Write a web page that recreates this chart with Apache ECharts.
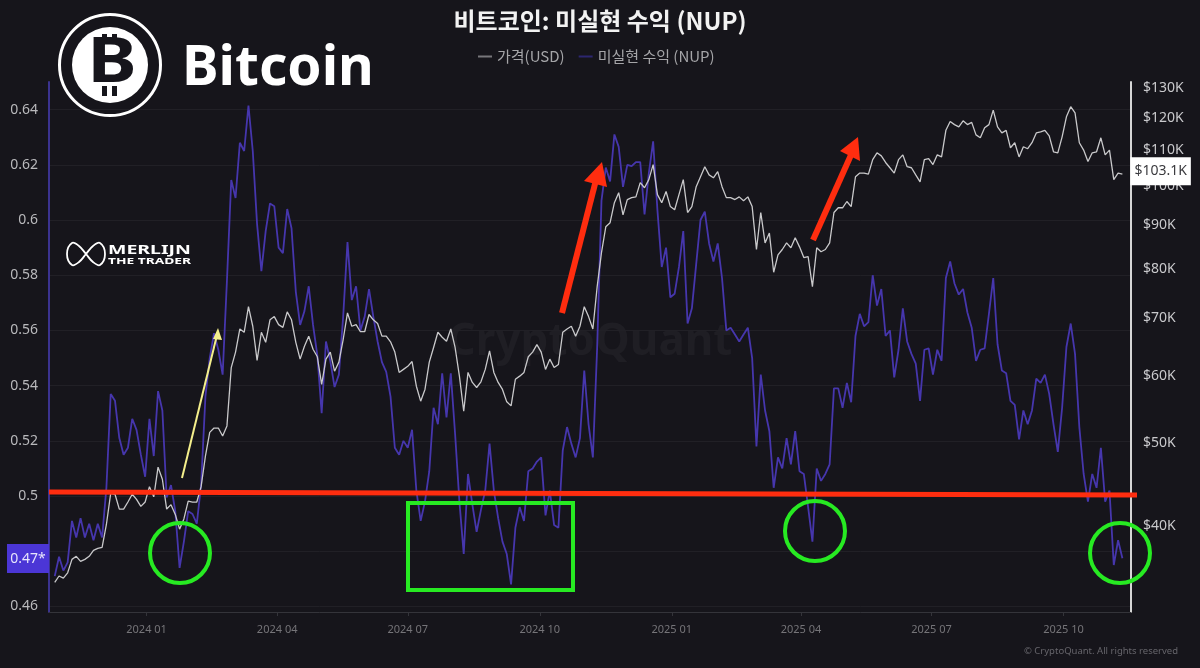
<!DOCTYPE html>
<html>
<head>
<meta charset="utf-8">
<title>비트코인: 미실현 수익 (NUP)</title>
<script src="https://cdn.jsdelivr.net/npm/echarts@6/dist/echarts.min.js"></script>
<style>
html,body{margin:0;padding:0;background:#16151b;}
#main{width:1200px;height:668px;}
</style>
</head>
<body>
<div id="main"></div>
<script>
// dates: one reading every 3 days
var startDate = '2023-10-29';
var stepDays = 3;

// NUP (left axis)
var nupValues = [
0.471,0.478,0.473,0.476,0.491,0.485,0.492,0.485,0.490,0.484,0.490,0.485,0.503,0.537,0.5345,0.521,0.515,0.5175,0.528,0.524,
0.515,0.507,0.528,0.5145,0.538,0.531,0.4995,0.504,0.4945,0.474,0.4835,0.4945,0.4935,0.490,0.504,0.536,0.550,0.559,0.553,0.544,
0.578,0.6145,0.608,0.628,0.625,0.6415,0.625,0.5985,0.5815,0.596,0.606,0.605,0.590,0.588,0.604,0.597,0.574,0.562,0.567,0.576,
0.562,0.551,0.530,0.556,0.549,0.5395,0.544,0.565,0.592,0.571,0.576,0.560,0.565,0.575,0.565,0.556,0.5485,0.545,0.536,0.5175,
0.515,0.520,0.5175,0.524,0.502,0.491,0.498,0.509,0.532,0.526,0.5445,0.5285,0.5445,0.5225,0.498,0.479,0.508,0.497,0.487,0.495,
0.502,0.519,0.502,0.492,0.4835,0.479,0.468,0.4885,0.496,0.491,0.509,0.510,0.5125,0.514,0.493,0.502,0.4895,0.4885,0.5165,0.525,
0.519,0.514,0.521,0.5455,0.526,0.514,0.554,0.607,0.619,0.614,0.631,0.6265,0.612,0.620,0.6195,0.621,0.621,0.602,0.617,0.6285,
0.6035,0.583,0.590,0.572,0.5733,0.583,0.596,0.5625,0.568,0.584,0.600,0.603,0.5915,0.585,0.5915,0.579,0.560,0.561,0.5585,0.556,
0.5585,0.561,0.550,0.518,0.544,0.531,0.5235,0.503,0.514,0.510,0.521,0.5115,0.5235,0.509,0.508,0.496,0.4835,0.510,0.5055,0.508,
0.5115,0.539,0.539,0.532,0.541,0.534,0.558,0.566,0.5615,0.563,0.580,0.569,0.575,0.558,0.560,0.543,0.553,0.568,0.556,0.5515,
0.548,0.5345,0.553,0.5535,0.544,0.553,0.549,0.579,0.585,0.577,0.573,0.575,0.5665,0.561,0.549,0.553,0.5535,0.566,0.579,0.555,
0.5455,0.5445,0.5345,0.533,0.5205,0.531,0.526,0.531,0.5425,0.541,0.544,0.537,0.526,0.516,0.532,0.554,0.5625,0.5515,0.525,0.508,
0.498,0.508,0.503,0.5175,0.498,0.502,0.475,0.484,0.4775
];

// price in $K (right axis)
var priceValues = [
34.4,35.0,34.8,35.3,36.6,36.9,36.4,36.6,36.9,37.5,37.7,37.8,40.2,43.7,43.6,41.9,41.9,42.7,43.6,43.0,
42.2,42.7,44.5,43.3,46.9,45.4,41.9,42.4,41.3,39.7,40.8,42.8,42.7,42.7,44.5,48.3,51.5,52.1,52.1,51.0,
52.4,61.3,63.9,68.0,67.4,72.2,68.5,62.5,67.4,65.6,69.7,70.3,68.8,68.3,71.2,69.7,65.6,62.7,64.9,66.7,
64.4,63.1,58.6,62.7,63.9,60.7,62.2,66.1,71.0,68.5,68.8,67.5,67.5,70.7,69.7,69.0,66.7,66.7,65.7,63.9,
60.5,61.0,61.5,62.3,58.3,56.0,57.8,62.2,64.7,67.4,66.5,65.8,68.0,64.7,59.9,54.5,60.5,58.9,58.1,59.0,
61.0,64.1,60.5,58.9,57.8,55.9,55.3,59.4,59.9,60.5,63.1,63.9,65.2,63.9,61.0,62.7,61.3,61.8,67.4,68.0,
68.5,66.7,68.5,72.2,70.3,68.0,76.2,83.5,89.5,90.5,95.5,98.1,92.4,96.3,96.8,97.0,100.8,99.4,101.6,105.8,
97.6,95.5,98.4,94.5,93.7,97.6,101.6,93.0,94.5,99.7,102.4,105.2,102.9,102.1,103.8,99.7,96.8,96.8,96.3,97.0,
96.0,97.0,94.5,84.2,93.0,85.7,88.0,79.2,83.0,84.2,85.7,84.6,86.9,84.8,82.4,82.6,76.2,84.6,83.7,84.2,
85.7,93.0,94.2,94.2,95.8,94.5,102.4,103.4,103.4,103.1,107.2,109.2,108.3,106.4,104.9,103.4,107.2,108.6,105.2,104.9,
102.9,101.0,107.2,107.5,105.8,108.6,108.0,116.0,118.8,117.8,117.1,119.0,117.8,118.5,114.6,113.7,116.8,117.8,122.5,117.1,
115.2,116.0,110.7,112.2,108.0,111.0,110.4,112.2,115.2,115.5,116.0,114.3,109.5,109.2,114.0,120.3,123.6,121.6,112.2,110.0,
106.7,109.2,109.5,113.7,108.6,110.0,101.6,103.4,103.1
];

// tick labels
var xTicks = ['2024-01-01','2024-04-01','2024-07-01','2024-10-01','2025-01-01','2025-04-01','2025-07-01','2025-10-01'];
var nupTicks = [0.46,0.48,0.5,0.52,0.54,0.56,0.58,0.6,0.62,0.64];
var priceTicks = [40,50,60,70,80,90,100,110,120,130];

var priceName = '가격(USD)';
var nupName = '미실현 수익 (NUP)';
var lastPrice = '$103.1K';
var lastNup = '0.47*';

var cjkFont = '"Noto Sans CJK KR","Noto Sans",sans-serif';
var latinFont = '"Noto Sans","Open Sans",sans-serif';

function toTime(day){
	return new Date(day + 'T00:00:00Z').getTime();
}

function makeSeriesData(values){
	var t0 = toTime(startDate);
	var out = [];
	for(var i=0;i<values.length;i++){
		out.push([t0 + i*stepDays*86400000, values[i]]);
	}
	return out;
}

function pad2(n){
	return n<10 ? '0'+n : ''+n;
}

var xTickTimes = xTicks.map(toTime);

var greenColor = '#27ea22';
var redColor = '#ff2d0f';

// hand drawn notes that sit on top of the chart
var notes = [
	// 0.5 line
	{type:'line',z:50,shape:{x1:49,y1:492,x2:1137,y2:495},style:{stroke:redColor,lineWidth:5}},
	// yellow arrow
	{type:'line',z:50,shape:{x1:182,y1:478,x2:217,y2:335},style:{stroke:'#f4ef8c',lineWidth:2}},
	{type:'polygon',z:50,shape:{points:[[218,328],[213,339],[222,340]]},style:{fill:'#f4ef8c'}},
	// red arrows
	{type:'line',z:50,shape:{x1:562,y1:313,x2:596,y2:180},style:{stroke:redColor,lineWidth:6}},
	{type:'polygon',z:50,shape:{points:[[602,162],[584,181],[607,187]]},style:{fill:redColor}},
	{type:'line',z:50,shape:{x1:813,y1:240,x2:851,y2:155},style:{stroke:redColor,lineWidth:6}},
	{type:'polygon',z:50,shape:{points:[[858,137],[840,151],[860,161]]},style:{fill:redColor}},
	// green marks
	{type:'circle',z:50,shape:{cx:180,cy:553,r:30},style:{fill:'none',stroke:greenColor,lineWidth:4}},
	{type:'circle',z:50,shape:{cx:815,cy:531,r:30},style:{fill:'none',stroke:greenColor,lineWidth:4}},
	{type:'circle',z:50,shape:{cx:1120,cy:553,r:30},style:{fill:'none',stroke:greenColor,lineWidth:4}},
	{type:'rect',z:50,shape:{x:408,y:503,width:165,height:87},style:{fill:'none',stroke:greenColor,lineWidth:4}},
	// last NUP badge
	{type:'rect',z:50,shape:{x:7,y:544,width:42,height:29},style:{fill:'#4b36d6'}},
	{type:'text',z:51,x:28,y:559,style:{text:lastNup,fill:'#e6e4fb',font:'14px '+latinFont,textAlign:'center',textVerticalAlign:'middle'}},
	// bitcoin logo
	{type:'circle',z:50,shape:{cx:110,cy:65,r:50.5},style:{fill:'none',stroke:'#fff',lineWidth:3}},
	{type:'circle',z:50,shape:{cx:110,cy:65,r:38},style:{fill:'#fff'}},
	{type:'text',z:51,x:112,y:64,scaleX:1.2,style:{text:'B',fill:'#16151b',font:'bold 62px '+latinFont,textAlign:'center',textVerticalAlign:'middle'}},
	{type:'rect',z:51,shape:{x:102,y:34,width:5,height:10},style:{fill:'#16151b'}},
	{type:'rect',z:51,shape:{x:112,y:34,width:5,height:10},style:{fill:'#16151b'}},
	{type:'rect',z:51,shape:{x:102,y:86,width:5,height:10},style:{fill:'#16151b'}},
	{type:'rect',z:51,shape:{x:112,y:86,width:5,height:10},style:{fill:'#16151b'}},
	{type:'text',z:50,x:182,y:69,style:{text:'Bitcoin',fill:'#fff',font:'bold 55px '+latinFont,textVerticalAlign:'middle'}},
	// merlijn mark
	{type:'polygon',z:50,shape:{smooth:0.4,points:[[86,254],[79,246],[72,243],[67,254],[72,265],[79,262],[86,254],[93,246],[100,243],[105,254],[100,265],[93,262]]},style:{fill:'none',stroke:'#fff',lineWidth:1.8}},
	{type:'text',z:50,x:108,y:250,scaleX:1.5,style:{text:'MERLIJN',fill:'#fff',font:'bold 13px '+latinFont,textVerticalAlign:'middle'}},
	{type:'text',z:50,x:108,y:261,scaleX:1.53,style:{text:'THE TRADER',fill:'#fff',font:'bold 9px '+latinFont,textVerticalAlign:'middle'}},
	// watermark + footer
	{type:'text',x:590,y:342,z:-1,style:{text:'CryptoQuant',fill:'#1f1e24',font:'bold 44px '+latinFont,textAlign:'center',textVerticalAlign:'middle'}},
	{type:'text',x:1178,y:651,style:{text:'© CryptoQuant. All rights reserved',fill:'#66656b',font:'9.5px '+latinFont,textAlign:'right',textVerticalAlign:'middle'}}
];

var myChart = echarts.init(document.getElementById('main'), null, {renderer:'canvas'});

var option = {
	backgroundColor:'#16151b',
	animation:false,
	title:{
		text:'비트코인: 미실현 수익 (NUP)',
		left:595,
		top:4,
		textAlign:'center',
		textStyle:{color:'#f2f2f2',fontFamily:cjkFont,fontSize:24,fontWeight:'bold'}
	},
	legend:{
		left:473,
		top:44,
		itemWidth:14,
		itemHeight:2,
		itemGap:14,
		icon:'rect',
		textStyle:{color:'#a5a5a8',fontFamily:cjkFont,fontSize:15},
		data:[
			{name:priceName,itemStyle:{color:'#77767b'}},
			{name:nupName,itemStyle:{color:'#2c2670'}}
		]
	},
	grid:{left:49,right:69,top:82,bottom:56},
	xAxis:{
		type:'value',
		min:toTime('2023-10-25'),
		max:toTime('2025-11-17'),
		axisLine:{show:true,onZero:false,lineStyle:{color:'#34343a'}},
		axisTick:{show:true,length:4,lineStyle:{color:'#34343a'},customValues:xTickTimes},
		splitLine:{show:false},
		axisLabel:{
			customValues:xTickTimes,
			color:'#757478',
			fontFamily:latinFont,
			fontSize:11,
			margin:12,
			formatter:function(value){
				var d = new Date(value);
				return d.getUTCFullYear()+' '+pad2(d.getUTCMonth()+1);
			}
		}
	},
	yAxis:[
		{
			type:'value',
			position:'left',
			min:0.458,
			max:0.65,
			axisLine:{show:true,lineStyle:{color:'#3b3390',width:2}},
			axisTick:{show:false,customValues:nupTicks},
			splitLine:{show:true,lineStyle:{color:'#212026',width:1}},
			axisLabel:{
				customValues:nupTicks,
				color:'#b9b9bc',
				fontFamily:latinFont,
				fontSize:14,
				margin:11,
				formatter:function(v){return String(+v.toFixed(2));}
			}
		},
		{
			type:'log',
			position:'right',
			logBase:10,
			min:31.77,
			max:132.1,
			axisLine:{show:true,lineStyle:{color:'#d6d6d6',width:2}},
			axisTick:{show:false,customValues:priceTicks},
			splitLine:{show:false},
			axisLabel:{
				customValues:priceTicks,
				color:'#c9c9cc',
				fontFamily:latinFont,
				fontSize:14,
				margin:12,
				formatter:function(v){return '$'+Math.round(v)+'K';}
			}
		}
	],
	series:[
		{
			name:nupName,
			type:'line',
			yAxisIndex:0,
			showSymbol:false,
			smooth:false,
			lineStyle:{color:'#4636ad',width:1.8},
			itemStyle:{color:'#4636ad'},
			data:makeSeriesData(nupValues),
			z:2
		},
		{
			name:priceName,
			type:'line',
			yAxisIndex:1,
			showSymbol:false,
			smooth:false,
			lineStyle:{color:'#c9c9cb',width:1.3},
			itemStyle:{color:'#c9c9cb'},
			data:makeSeriesData(priceValues),
			z:3,
			endLabel:{
				show:true,
				formatter:lastPrice,
				distance:8,
				offset:[0,-3],
				color:'#3a3a3e',
				backgroundColor:'#fff',
				fontFamily:latinFont,
				fontSize:14,
				padding:[7,4,7,4]
			}
		}
	],
	graphic:notes
};

myChart.setOption(option);
</script>
</body>
</html>
